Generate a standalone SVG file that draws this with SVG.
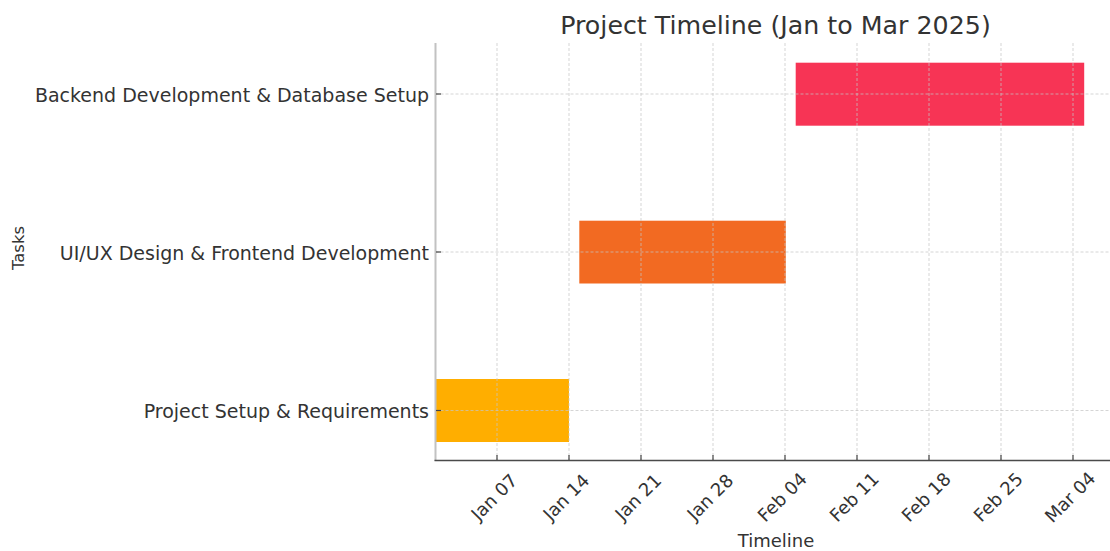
<svg xmlns="http://www.w3.org/2000/svg" width="1110" height="551" viewBox="0 0 1110 551">
  <style>
    .lbl { font-family: "DejaVu Sans", sans-serif; fill: #333333; }
    .ytick { font-size: 19px; text-anchor: end; dominant-baseline: central; }
    .xtick { font-size: 18px; text-anchor: middle; dominant-baseline: central; }
    .grid { stroke: #c4c4c4; stroke-width: 0.9; stroke-dasharray: 3 2; fill: none; opacity: 0.8; }
    .tick { stroke: #444444; stroke-width: 1.2; }
  </style>
  <rect width="1110" height="551" fill="#ffffff"/>

  <text class="lbl" x="775.5" y="34" font-size="25.3" text-anchor="middle">Project Timeline (Jan to Mar 2025)</text>

  <!-- task bars -->
  <g id="task-setup"><rect x="435.5" y="379" width="133.5" height="63" fill="#ffae00"/></g>
  <g id="task-frontend"><rect x="579.3" y="220.7" width="206.5" height="62.8" fill="#f26a22"/></g>
  <g id="task-backend"><rect x="795.7" y="62.7" width="288.5" height="63" fill="#f73455"/></g>

  <!-- grid drawn over bars -->
  <g id="grid">
    <line class="grid" x1="435.5" y1="94" x2="1110" y2="94"/>
    <line class="grid" x1="435.5" y1="252" x2="1110" y2="252"/>
    <line class="grid" x1="435.5" y1="410.5" x2="1110" y2="410.5"/>
    <line class="grid" x1="497" y1="43" x2="497" y2="460"/>
    <line class="grid" x1="569" y1="43" x2="569" y2="460"/>
    <line class="grid" x1="641" y1="43" x2="641" y2="460"/>
    <line class="grid" x1="713" y1="43" x2="713" y2="460"/>
    <line class="grid" x1="785" y1="43" x2="785" y2="460"/>
    <line class="grid" x1="857" y1="43" x2="857" y2="460"/>
    <line class="grid" x1="929" y1="43" x2="929" y2="460"/>
    <line class="grid" x1="1001" y1="43" x2="1001" y2="460"/>
    <line class="grid" x1="1073" y1="43" x2="1073" y2="460"/>
  </g>

  <!-- axes -->
  <g id="axes">
    <line x1="435.5" y1="43" x2="435.5" y2="461" stroke="#c2c2c2" stroke-width="2"/>
    <line x1="434.5" y1="460.5" x2="1110" y2="460.5" stroke="#4a4a4a" stroke-width="1.6"/>
    <g class="tick">
      <line x1="436" y1="94" x2="441" y2="94"/>
      <line x1="436" y1="252" x2="441" y2="252"/>
      <line x1="436" y1="410.5" x2="441" y2="410.5"/>
      <line x1="497" y1="460" x2="497" y2="455"/>
      <line x1="569" y1="460" x2="569" y2="455"/>
      <line x1="641" y1="460" x2="641" y2="455"/>
      <line x1="713" y1="460" x2="713" y2="455"/>
      <line x1="785" y1="460" x2="785" y2="455"/>
      <line x1="857" y1="460" x2="857" y2="455"/>
      <line x1="929" y1="460" x2="929" y2="455"/>
      <line x1="1001" y1="460" x2="1001" y2="455"/>
      <line x1="1073" y1="460" x2="1073" y2="455"/>
    </g>
  </g>

  <!-- y tick labels -->
  <g id="ylabels">
    <text class="lbl ytick" x="429" y="95">Backend Development &amp; Database Setup</text>
    <text class="lbl ytick" x="429" y="253">UI/UX Design &amp; Frontend Development</text>
    <text class="lbl ytick" x="429" y="411">Project Setup &amp; Requirements</text>
  </g>

  <!-- x tick labels -->
  <g id="xlabels">
    <text class="lbl xtick" transform="translate(494,497) rotate(-45)">Jan 07</text>
    <text class="lbl xtick" transform="translate(566,497) rotate(-45)">Jan 14</text>
    <text class="lbl xtick" transform="translate(638,497) rotate(-45)">Jan 21</text>
    <text class="lbl xtick" transform="translate(710,497) rotate(-45)">Jan 28</text>
    <text class="lbl xtick" transform="translate(782,497) rotate(-45)">Feb 04</text>
    <text class="lbl xtick" transform="translate(854,497) rotate(-45)">Feb 11</text>
    <text class="lbl xtick" transform="translate(926,497) rotate(-45)">Feb 18</text>
    <text class="lbl xtick" transform="translate(998,497) rotate(-45)">Feb 25</text>
    <text class="lbl xtick" transform="translate(1070,497) rotate(-45)">Mar 04</text>
  </g>

  <text class="lbl" x="776" y="547" font-size="18" text-anchor="middle">Timeline</text>
  <text class="lbl" transform="translate(24,248) rotate(-90)" font-size="16.5" text-anchor="middle">Tasks</text>
</svg>
